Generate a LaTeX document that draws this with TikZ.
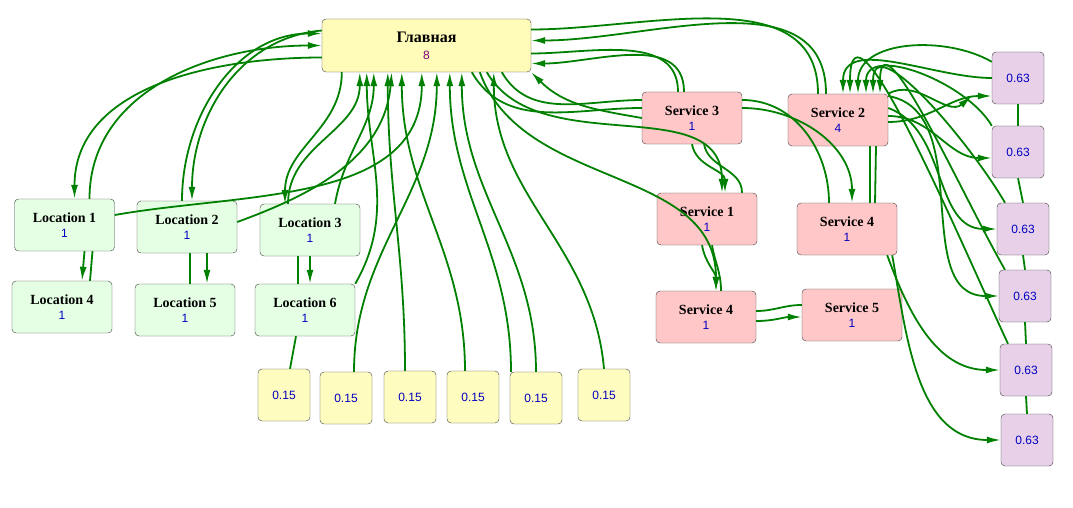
\documentclass[tikz,border=0pt]{standalone}
\usepackage{fontspec}
\setmainfont{Liberation Serif}
\newfontfamily\numf{Liberation Sans}
\usetikzlibrary{arrows.meta}
\newcommand{\nm}[1]{{\numf\mdseries\fontsize{12}{14}\selectfont\color{blue!75!black}#1}}
\begin{document}
\begin{tikzpicture}[x=1pt,y=-1pt,
  box/.style={draw=black!75,rounded corners=4pt,minimum width=100pt,minimum height=52pt,align=center,font=\bfseries\fontsize{14}{17}\selectfont,inner sep=2pt},
  loc/.style={box,fill=green!10!white},
  srv/.style={box,fill=red!22!white},
  sm/.style={draw=black!75,rounded corners=4pt,minimum width=52pt,minimum height=52pt,font=\numf\fontsize{12}{14}\selectfont,text=blue!75!black},
  yb/.style={sm,fill=yellow!25!white},
  pb/.style={sm,fill=violet!18!white},
  e/.style={draw=green!50!black,line width=1.8pt},
  a/.style={e,-{Latex[length=14pt,width=7pt]}}]
\useasboundingbox (0,0) rectangle (1073,508);
\node[box,fill=yellow!28!white,minimum width=209pt,minimum height=53pt,font=\bfseries\fontsize{16}{19}\selectfont] (m) at (426.5,45.5) {Главная\\[-2pt]{\numf\mdseries\fontsize{12}{14}\selectfont\color{violet}8}};
\node[loc] (l1) at (64.5,225) {Location 1\\[-2pt]\nm{1}};
\node[loc] (l2) at (187,227) {Location 2\\[-2pt]\nm{1}};
\node[loc] (l3) at (310,230) {Location 3\\[-2pt]\nm{1}};
\node[loc] (l4) at (62,307) {Location 4\\[-2pt]\nm{1}};
\node[loc] (l5) at (185,310) {Location 5\\[-2pt]\nm{1}};
\node[loc] (l6) at (305,310) {Location 6\\[-2pt]\nm{1}};
\node[srv] (s3) at (692,118) {Service 3\\[-2pt]\nm{1}};
\node[srv] (s2) at (838,120) {Service 2\\[-2pt]\nm{4}};
\node[srv] (s1) at (707,219) {Service 1\\[-2pt]\nm{1}};
\node[srv] (s4r) at (847,229) {Service 4\\[-2pt]\nm{1}};
\node[srv] (s4l) at (706,317) {Service 4\\[-2pt]\nm{1}};
\node[srv] (s5) at (852,315) {Service 5\\[-2pt]\nm{1}};
\node[yb] (y1) at (284,395) {0.15};
\node[yb] (y2) at (346,398) {0.15};
\node[yb] (y3) at (410,397) {0.15};
\node[yb] (y4) at (473,397) {0.15};
\node[yb] (y5) at (536,398) {0.15};
\node[yb] (y6) at (604,395) {0.15};
\node[pb] (p1) at (1018,78) {0.63};
\node[pb] (p2) at (1018,152) {0.63};
\node[pb] (p3) at (1023,229) {0.63};
\node[pb] (p4) at (1025,296) {0.63};
\node[pb] (p5) at (1026,370) {0.63};
\node[pb] (p6) at (1027,440) {0.63};
% purple chain
\draw[e] (p1.south) -- (p2.north);
\draw[e] (p2.south) -- (p3.north);
\draw[e] (p3.south) -- (p4.north);
\draw[e] (p4.south) -- (p5.north);
\draw[e] (p5.south) -- (p6.north);
% locations <-> main
\draw[a] ([yshift=-12pt]m.west) to[out=180,in=90] ([xshift=10pt]l1.north);
\draw[a] ([xshift=25pt]l1.north) to[out=90,in=180] ([yshift=0pt]m.west);
\draw[a] ([xshift=-5pt]l2.north) to[out=90,in=180] ([yshift=12pt]m.west);
\draw[a] ([yshift=15pt]m.west) to[out=185,in=90] ([xshift=5pt]l2.north);
\draw[a] ([xshift=20pt]m.south west) to[out=-90,in=90] ([xshift=-25pt]l3.north);
\draw[a] ([xshift=-22pt]l3.north) to[out=90,in=-90] ([xshift=38pt]m.south west);
\draw[a] ([xshift=25pt]l3.north) to[out=80,in=-90] ([xshift=52pt]m.south west);
\draw[a] ([yshift=10pt]l1.east) to[out=10,in=-90] ([xshift=100pt]m.south west);
\draw[a] ([yshift=5pt]l2.east) to[out=20,in=-95] ([xshift=70pt]m.south west);
\draw[a] (l6.north east) to[out=60,in=-90] ([xshift=45pt]m.south west);
\draw[a] ([xshift=20pt]l1.south) -- ([xshift=20pt]l4.north);
\draw[e] ([xshift=28pt]l1.south) -- ([xshift=28pt]l4.north);
\draw[e] ([xshift=3pt]l2.south) -- ([xshift=5pt]l5.north);
\draw[a] ([xshift=20pt]l2.south) -- ([xshift=22pt]l5.north);
\draw[e] ([xshift=-12pt]l3.south) -- ([xshift=-7pt]l6.north);
\draw[a] ([xshift=0pt]l3.south) -- ([xshift=5pt]l6.north);
% yellow -> main
\draw[e] ([xshift=6pt]y1.north) -- ([xshift=-9pt]l6.south);
\draw[a] ([xshift=8pt]y2.north) to[out=90,in=-90] ([xshift=115pt]m.south west);
\draw[a] ([xshift=-5pt]y3.north) to[out=90,in=-90] ([xshift=66pt]m.south west);
\draw[a] ([xshift=-8pt]y4.north) to[out=90,in=-90] ([xshift=80pt]m.south west);
\draw[a] (y5.north) to[out=90,in=-90] ([xshift=140pt]m.south west);
\draw[a] (y6.north) to[out=95,in=-90] ([xshift=172pt]m.south west);
\draw[a] ([xshift=-25pt]y5.north) to[out=90,in=-90] ([xshift=128pt]m.south west);
% services <-> main
\draw[a] ([xshift=-8pt]s3.north) to[out=90,in=0] ([yshift=-18pt]m.east);
\draw[e] ([yshift=-8pt]m.east) to[out=0,in=90] ([xshift=-14pt]s3.north);
\draw[a] (s3.west) to[out=170,in=-45] (m.south east);
\draw[a] ([xshift=-12pt]s2.north) to[out=90,in=0] ([yshift=5pt]m.east);
\draw[e] ([yshift=16pt]m.east) to[out=0,in=90] ([xshift=-20pt]s2.north);
\draw[a] ([xshift=158pt]m.south west) to[out=-70,in=90] ([xshift=10pt]s4l.north);
\draw[a] ([xshift=165pt]m.south west) to[out=-60,in=90] ([xshift=15pt]s1.north);
\draw[e] ([xshift=150pt]m.south west) to[out=-60,in=180] ([yshift=10pt]s3.west);
\draw[e] ([xshift=180pt]m.south west) to[out=-60,in=180] ([yshift=18pt]s3.west);
% service internal
\draw[a] ([xshift=0pt]s3.south) to[out=-80,in=90] ([xshift=18pt]s1.north);
\draw[e] ([xshift=12pt]s3.south) to[out=-80,in=90] ([xshift=35pt]s1.north);
\draw[a] ([yshift=10pt]s3.east) to[out=0,in=90] ([xshift=5pt]s4r.north);
\draw[e] ([yshift=18pt]s3.east) to[out=0,in=90] ([xshift=-18pt]s4r.north);
\draw[a] ([xshift=-5pt]s1.south) to[out=-80,in=90] ([xshift=10pt]s4l.north);
\draw[e] ([xshift=5pt]s1.south) to[out=-80,in=90] ([xshift=15pt]s4l.north);
\draw[a] ([yshift=-4pt]s4l.east) to[out=0,in=180] ([yshift=-2pt]s5.west);
\draw[e] ([yshift=6pt]s4l.east) to[out=0,in=180] ([yshift=10pt]s5.west);
\draw[e] ([xshift=32pt]s2.south) -- ([xshift=23pt]s4r.north);
\draw[e] ([xshift=38pt]s2.south) -- ([xshift=28pt]s4r.north);
% service2 <-> purple
\draw[a] ([yshift=-2pt]s2.east) to[out=0,in=180] ([yshift=-18pt]p1.west);
\draw[a] ([yshift=4pt]s2.east) to[out=0,in=180] ([yshift=-6pt]p2.west);
\draw[a] ([yshift=12pt]s2.east) to[out=-20,in=180] (p3.west);
\draw[a] ([yshift=24pt]s2.east) to[out=-10,in=180] (p4.west);
\draw[a] (p1.west) to[out=180,in=90] ([xshift=5pt]s2.north);
\draw[a] ([yshift=-10pt]p1.north west) to[out=150,in=90] ([xshift=20pt]s2.north);
\draw[a] (p2.north west) to[out=120,in=90] ([xshift=28pt]s2.north);
\draw[a] ([xshift=-18pt]p3.north) to[out=120,in=90] ([xshift=35pt]s2.north);
\draw[a] ([xshift=-20pt]p4.north) to[out=120,in=90] ([xshift=42pt]s2.north);
\draw[a] ([xshift=-18pt]p5.north) to[out=115,in=90] ([xshift=12pt]s2.north);
\draw[a] (s2.north east) to[out=30,in=220] ([xshift=-20pt,yshift=-18pt]p1.west);
\draw[a] ([xshift=-10pt]s4r.south east) to[out=-70,in=180] ([yshift=0pt]p5.west);
\draw[a] ([xshift=-5pt]s4r.south east) to[out=-80,in=180] ([yshift=0pt]p6.west);
\end{tikzpicture}
\end{document}
